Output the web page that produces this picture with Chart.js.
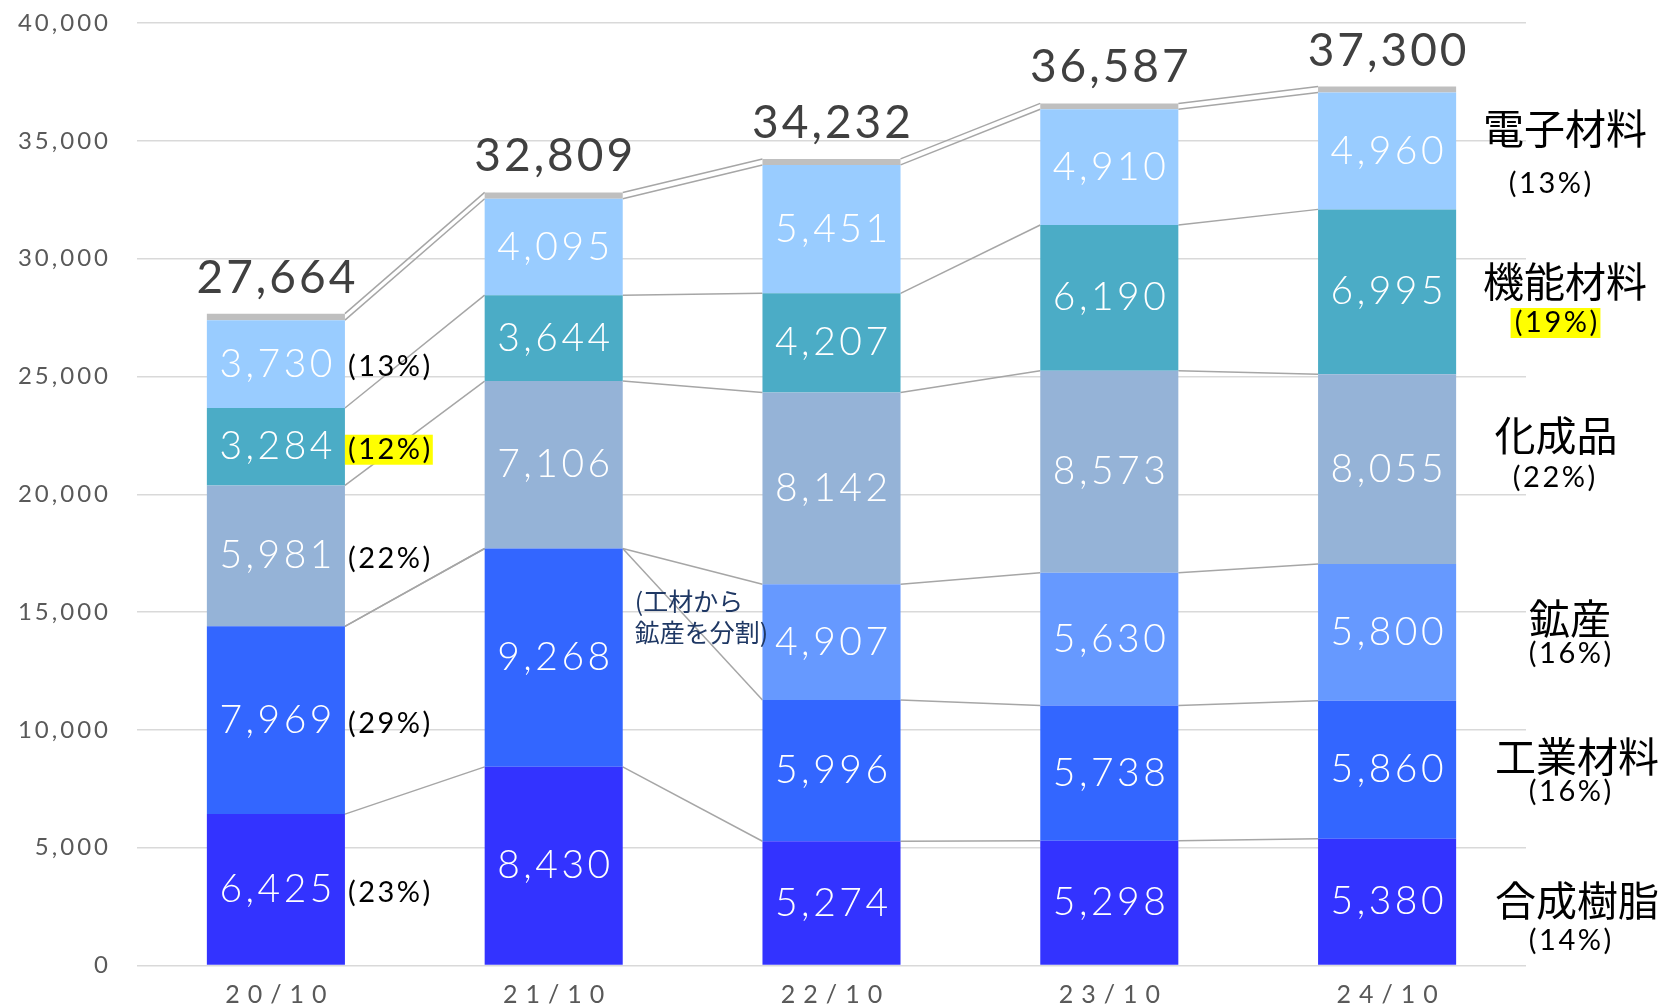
<!DOCTYPE html>
<html lang="ja">
<head>
<meta charset="utf-8">
<title>セグメント別売上高</title>
<script src="https://cdn.jsdelivr.net/npm/chart.js@4.4.1/dist/chart.umd.min.js"></script>
<style>
    html, body { margin: 0; padding: 0; background: #fff; }
    canvas { display: block; }
</style>
</head>
<body>
<canvas id="chart" width="1663" height="1007"></canvas>
<script>
// periods
const categories = ['20/10', '21/10', '22/10', '23/10', '24/10'];

// segment sales, bottom to top of each stack
const resin      = [6425, 8430, 5274, 5298, 5380];   // 合成樹脂
const industrial = [7969, 9268, 5996, 5738, 5860];   // 工業材料 (鉱産 included until 21/10)
const mining     = [null, null, 4907, 5630, 5800];   // 鉱産
const chemical   = [5981, 7106, 8142, 8573, 8055];   // 化成品
const functional = [3284, 3644, 4207, 6190, 6995];   // 機能材料
const electronic = [3730, 4095, 5451, 4910, 4960];   // 電子材料
const other      = [275, 266, 255, 248, 250];        // その他
const totals     = [27664, 32809, 34232, 36587, 37300];

const segmentNames = ['合成樹脂', '工業材料', '鉱産', '化成品', '機能材料', '電子材料', 'その他'];
const sharesFirst  = ['(23%)', '(29%)', null, '(22%)', '(12%)', '(13%)'];
const sharesLast   = ['(14%)', '(16%)', '(16%)', '(22%)', '(19%)', '(13%)'];
const noteLines    = ['(工材から', '鉱産を分割)'];
const yTicks       = [0, 5000, 10000, 15000, 20000, 25000, 30000, 35000, 40000];

const series = [resin, industrial, mining, chemical, functional, electronic, other];
const colors = ['#3333ff', '#3366ff', '#6699ff', '#95b3d7', '#4bacc6', '#99ccff', '#bfbfbf'];
const highlighted = 4; // 機能材料 share is marked yellow

// where the segment names sit on the right (centre x/y of name and of share)
const rightLabels = [
    { x: 1577, y: 900, px: 1570, py: 941 },
    { x: 1577, y: 756, px: 1570, py: 792 },
    { x: 1570, y: 618, px: 1570, py: 654 },
    { x: 1556, y: 435, px: 1554, py: 478 },
    { x: 1565, y: 281, px: 1556, py: 323 },
    { x: 1565, y: 128, px: 1550, py: 184 }
];

const NUM_FONT = "Lato, 'Noto Sans', sans-serif";
const JP_FONT = "'Noto Sans CJK JP', 'Noto Sans', sans-serif";

const fmt = v => v.toLocaleString('en-US');

// draw text with letter spacing, anchored left / center / right
function spacedText(ctx, text, x, y, align, spacing) {
    ctx.letterSpacing = spacing + 'px';
    const w = ctx.measureText(text).width - spacing;
    let left = x;
    if (align === 'center') left = x - w / 2;
    if (align === 'right') left = x - w;
    ctx.textAlign = 'left';
    ctx.fillText(text, left, y);
    ctx.letterSpacing = '0px';
    return { left: left, width: w };
}

const spacingPlugin = {
    id: 'tickSpacing',
    beforeDraw(chart) {
        [['x', 8], ['y', 3]].forEach(([id, sp]) => {
            const s = chart.scales[id];
            if (s._spaced) return;
            const orig = s.drawLabels.bind(s);
            s.drawLabels = area => {
                const c = chart.ctx;
                c.save();
                c.letterSpacing = sp + 'px';
                if (id === 'x') c.translate(sp / 2, 0);
                orig(area);
                c.restore();
            };
            s._spaced = true;
        });
    }
};

const overlayPlugin = {
    id: 'overlay',
    beforeDatasetsDraw(chart) {
        // connector lines between the tops of each segment
        const ctx = chart.ctx;
        const y = chart.scales.y;
        const bars = chart.getDatasetMeta(0).data;
        ctx.save();
        ctx.strokeStyle = '#a6a6a6';
        ctx.lineWidth = 1.5;
        for (let i = 0; i < categories.length - 1; i++) {
            const x1 = bars[i].x + bars[i].width / 2;
            const x2 = bars[i + 1].x - bars[i + 1].width / 2;
            let cumA = 0, cumB = 0;
            series.forEach(s => {
                cumA += s[i] || 0;
                cumB += s[i + 1] || 0;
                ctx.beginPath();
                ctx.moveTo(x1, y.getPixelForValue(cumA));
                ctx.lineTo(x2, y.getPixelForValue(cumB));
                ctx.stroke();
            });
        }
        ctx.restore();
    },
    afterDatasetsDraw(chart) {
        const ctx = chart.ctx;
        const y = chart.scales.y;
        ctx.save();

        // values inside segments
        ctx.fillStyle = '#ffffff';
        ctx.textBaseline = 'middle';
        ctx.font = '300 39px ' + NUM_FONT;
        series.slice(0, 6).forEach((s, k) => {
            const meta = chart.getDatasetMeta(k);
            s.forEach((v, i) => {
                if (v == null) return;
                const el = meta.data[i];
                spacedText(ctx, fmt(v), el.x, (el.y + el.base) / 2, 'center', 3.5);
            });
        });

        // totals
        const bars = chart.getDatasetMeta(0).data;
        ctx.fillStyle = '#404040';
        ctx.textBaseline = 'alphabetic';
        ctx.font = '400 46px ' + NUM_FONT;
        totals.forEach((t, i) => {
            spacedText(ctx, fmt(t), bars[i].x, y.getPixelForValue(t) - 21, 'center', 3);
        });

        // shares next to the first bar
        ctx.textBaseline = 'middle';
        ctx.font = '400 29px ' + NUM_FONT;
        const firstRight = bars[0].x + bars[0].width / 2;
        sharesFirst.forEach((txt, k) => {
            if (!txt) return;
            const el = chart.getDatasetMeta(k).data[0];
            const cy = (el.y + el.base) / 2 + 3;
            if (k === highlighted) {
                ctx.letterSpacing = '2.5px';
                const w = ctx.measureText(txt).width;
                ctx.letterSpacing = '0px';
                ctx.fillStyle = '#ffff00';
                ctx.fillRect(firstRight, cy - 15, w + 3, 30);
            }
            ctx.fillStyle = '#000000';
            spacedText(ctx, txt, firstRight + 3, cy, 'left', 2.5);
        });

        // segment names on the right
        rightLabels.forEach((p, k) => {
            ctx.fillStyle = '#000000';
            ctx.font = '400 41px ' + JP_FONT;
            spacedText(ctx, segmentNames[k], p.x, p.y, 'center', 0);
            ctx.font = '400 29px ' + NUM_FONT;
            if (k === highlighted) {
                ctx.letterSpacing = '2.5px';
                const w = ctx.measureText(sharesLast[k]).width;
                ctx.letterSpacing = '0px';
                ctx.fillStyle = '#ffff00';
                ctx.fillRect(p.px - w / 2 - 3, p.py - 15, w + 5, 30);
                ctx.fillStyle = '#000000';
            }
            spacedText(ctx, sharesLast[k], p.px, p.py, 'center', 2.5);
        });

        // note about the split of 鉱産 from 工業材料
        ctx.fillStyle = '#1f3864';
        ctx.font = '400 25px ' + JP_FONT;
        const noteX = bars[1].x + bars[1].width / 2 + 12;
        spacedText(ctx, noteLines[0], noteX, 601, 'left', 0);
        spacedText(ctx, noteLines[1], noteX, 632, 'left', 0);

        ctx.restore();
    }
};

new Chart(document.getElementById('chart').getContext('2d'), {
    type: 'bar',
    data: {
        labels: categories,
        datasets: series.map((s, k) => ({
            label: segmentNames[k],
            data: s,
            backgroundColor: colors[k],
            borderWidth: 0,
            barPercentage: 0.497,
            categoryPercentage: 1.0
        }))
    },
    options: {
        responsive: false,
        animation: false,
        devicePixelRatio: 1,
        layout: { padding: { top: 23, right: 137, left: 0, bottom: 0 } },
        plugins: {
            legend: { display: false },
            tooltip: { enabled: false }
        },
        scales: {
            x: {
                stacked: true,
                grid: { display: false },
                border: { display: false },
                ticks: {
                    color: '#595959',
                    font: { family: NUM_FONT, size: 25 },
                    padding: 6
                },
                afterFit: s => { s.height = 41.5; }
            },
            y: {
                stacked: true,
                min: 0,
                max: 40000,
                afterBuildTicks: s => { s.ticks = yTicks.map(v => ({ value: v })); },
                grid: { color: '#d9d9d9', lineWidth: 1.5, drawTicks: false },
                border: { display: false },
                ticks: {
                    color: '#595959',
                    font: { family: NUM_FONT, size: 24 },
                    padding: 26,
                    callback: v => fmt(v)
                },
                afterFit: s => {
                    s.width = 137;
                    s.paddingTop = 0;
                    s.paddingBottom = 0;
                }
            }
        }
    },
    plugins: [spacingPlugin, overlayPlugin]
});
</script>
</body>
</html>
